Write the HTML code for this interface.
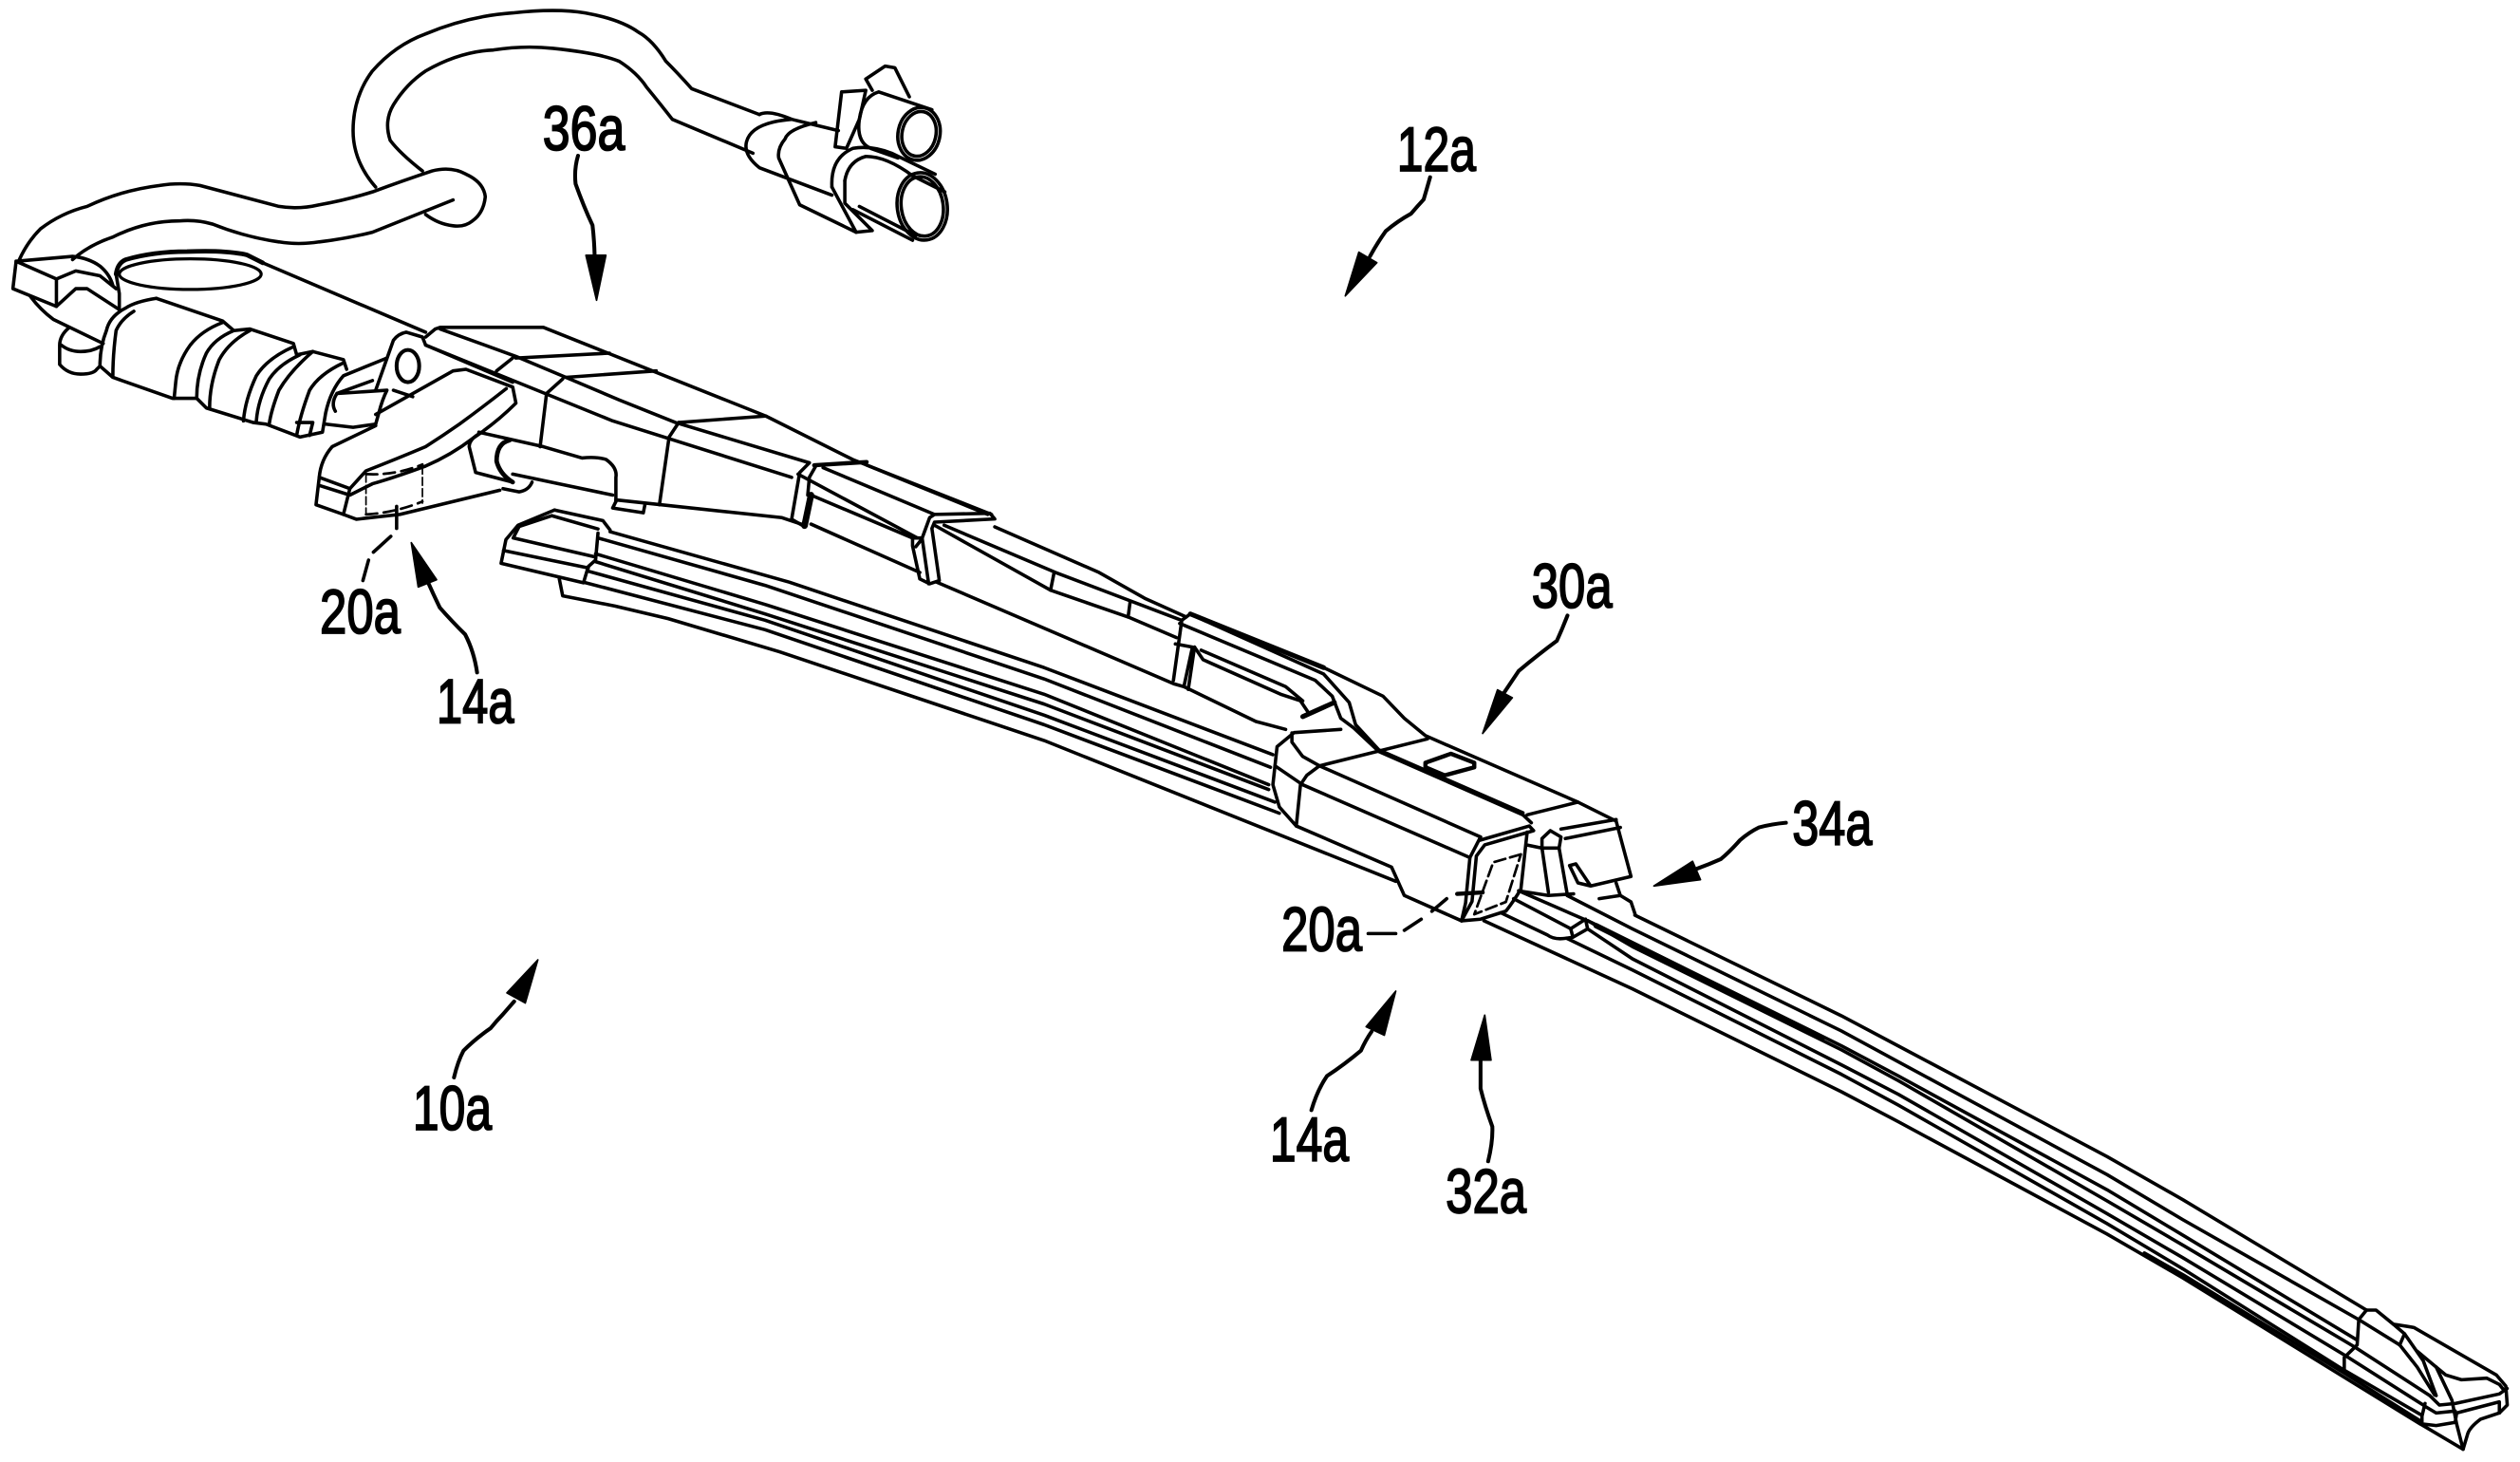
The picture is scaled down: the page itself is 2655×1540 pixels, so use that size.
<!DOCTYPE html>
<html><head><meta charset="utf-8"><title>Wiper</title>
<style>html,body{margin:0;padding:0;background:#fff}svg{display:block}
text{font-family:"Liberation Sans",sans-serif;font-size:39px;fill:#000;stroke:#000;stroke-width:1.1px}</style></head>
<body>
<svg xmlns="http://www.w3.org/2000/svg" width="2655" height="1540" viewBox="0 0 1563 906.6" preserveAspectRatio="none">
<rect width="1563" height="906.6" fill="#fff"/>
<g fill="none" stroke="#000" stroke-width="2.1" stroke-linejoin="round" stroke-linecap="round">
<!-- upper cable -->
<path d="M233,116Q219,100 219,81Q219,60 231,44Q245,28 264,21Q290,10 318,8Q345,5 363,8Q385,12 396,20Q405,25 413,38Q420,45 429,55L471,71"/>
<path d="M262,106Q248,95 242,87Q238,75 244,65Q252,52 264,44Q285,32 306,31Q325,28 343,30Q372,33 384,38Q395,45 401,54Q410,65 417,74L467,95"/>
<!-- lower cable -->
<path d="M12,161Q17,150 25,142Q38,132 54,128Q75,118 99,115Q112,113 124,115Q150,122 173,128Q185,130 198,127Q215,124 231,119Q250,112 268,106Q280,103 289,108Q300,113 301,122Q300,132 293,137Q288,141 281,140Q272,139 264,133"/>
<path d="M45,161Q55,152 70,147Q90,137 111,137Q122,136 132,139Q152,147 173,150Q185,152 198,150Q215,148 231,144L281,124"/>
<!-- connector -->
<path d="M471,71Q477,68 491,74L520,81"/>
<path d="M491,74Q466,76 463,88Q461,96 471,104L516,121"/>
<path d="M506,76Q489,80 487,86Q482,92 483,98L496,127L531,144"/>
<ellipse cx="570" cy="83" rx="13" ry="16.5" transform="rotate(12 570 83)"/>
<ellipse cx="570" cy="83" rx="10.5" ry="14" transform="rotate(12 570 83)"/>
<path d="M578,68L545,57Q535,60 533,74Q531,88 540,92L557,98"/>
<path d="M537,49L549,41L555,42L564,60M537,49L541,56"/>
<path d="M522,57L537,56L533,74L525,92L518,91Z"/>
<ellipse cx="572" cy="128" rx="15.5" ry="21" transform="rotate(-8 572 128)"/>
<ellipse cx="572" cy="128" rx="13" ry="18.5" transform="rotate(-8 572 128)"/>
<path d="M516,116Q515,98 529,92Q540,90 553,95L580,108"/>
<path d="M524,112Q526,100 537,97Q550,97 566,109L586,119"/>
<path d="M516,116L531,144L541,143L524,126L524,112"/>
<path d="M529,130L566,149M533,128L568,146"/>
<!-- arm head -->
<ellipse cx="118" cy="170" rx="44" ry="9.5" stroke-width="1.9"/>
<path stroke-width="2.8" d="M72,170Q73,163 78,161Q95,156 116,156Q140,155 153,158L163,163"/>
<path d="M163,163L264,206"/>
<path d="M72,170L74,182L74,191"/>
<path d="M10,162L45,159Q55,160 62,165Q68,170 70,177"/>
<path d="M10,162L35,173L35,190L8,179Z"/>
<path d="M35,173L47,168L62,171L72,179"/>
<path d="M35,190L47,179L54,179L74,192"/>
<path d="M19,184Q25,192 33,198L64,213"/>
<path d="M43,203Q37,208 37,214L37,226Q42,232 50,232Q58,232 60,229L62,227"/>
<path d="M38,214Q43,218 50,218Q57,218 62,215"/>
<!-- motor body -->
<path d="M97,185L138,199L145,205L155,204L182,213L184,220L194,218L213,223L215,229"/>
<path d="M97,185Q84,187 78,191Q68,196 66,205Q62,215 62,227L70,234L107,247L122,247L128,253L157,262L165,263L186,271L200,268L202,256Q205,242 213,233L240,222"/>
<path d="M83,193Q75,198 72,205Q70,220 70,233"/>
<path d="M138,200Q125,205 118,214Q110,225 109,237L108,247"/>
<path d="M145,205Q133,210 128,219Q122,232 122,247"/>
<path d="M155,205Q142,212 136,223Q130,238 130,253"/>
<path d="M182,215Q166,222 159,233Q152,248 151,261"/>
<path d="M186,220Q173,226 167,235Q160,248 159,261"/>
<path d="M194,218Q180,230 173,242Q168,255 167,263"/>
<path d="M213,225Q198,232 192,242Q186,258 184,270"/>
<path d="M184,262L194,262L192,270"/>
<path d="M202,263L219,265L233,263"/>
<path d="M209,244L231,236M209,244L240,242Q237,248 235,256L233,263M244,242L256,246"/>
<path d="M209,244Q205,250 208,255"/>
<!-- hinge -->
<path d="M233,242L244,211Q247,207 252,206L262,209L264,214L318,237"/>
<ellipse cx="253" cy="227" rx="7" ry="10" stroke-width="2.4"/>
<!-- lever -->
<path d="M233,264L206,277Q199,285 198,296L196,313L213,319L221,322L248,319L310,304"/>
<path d="M233,257L281,230L289,229L318,240L320,250Q308,262 293,272Q280,282 264,289Q245,296 231,300L217,307L198,301"/>
<path d="M198,296L217,303L213,319"/>
<path d="M314,241Q300,252 285,263Q275,270 264,277Q245,285 227,292L217,303"/>
<path stroke-width="1" d="M227,294V319M262,289V312" stroke-dasharray="5 2"/>
<path stroke-width="1.6" d="M227,294Q245,295 262,288M227,319Q245,318 262,311" stroke-dasharray="7 4"/>
<path d="M246,314L246,327.7"/>
<path d="M242.4,332.6L231.6,342.4M228.6,347.3L225.1,360"/>
<!-- rod -->
<path d="M297,268L337,277L361,284Q370,283 376,285Q383,290 382,296L382,311"/>
<path d="M318,294L380,307"/>
<path stroke-width="2.8" d="M316,273Q308,275 308,286Q310,294 318,299"/>
<path d="M299,268Q291,272 291,277L295,293L318,299M312,303L322,305Q328,304 330,299"/>
<!-- arm -->
<path d="M264,209L270,204L273,203H337L475,258L529,285L615,319"/>
<path d="M273,204L320,221L351,234L384,248L419,262L502,287"/>
<path d="M264,214L343,246L380,261L491,296"/>
<path d="M320,222L378,219M351,234L407,230M421,262L475,258"/>
<path d="M318,222L308,230M349,235L339,244L335,277M421,262L415,271L409,313"/>
<path d="M382,310L485,321L500,326"/>
<path d="M382,311L380,315L399,318L400,313"/>
<!-- clip 1 -->
<path d="M502,287L496,293L491,322L498,326"/>
<path d="M506,289L502,296L501,307"/>
<path stroke-width="4" d="M503,307L499,326"/>
<path stroke-width="2.6" d="M505,288.5L537.5,286.5"/>
<path d="M510.5,290L579.6,319M537.5,288.4L612.6,319"/>
<path d="M495,294L569,333.6M503,307L566,333.6M503,325L570.5,355"/>
<!-- clip 2 -->
<path d="M579.6,319L576.6,321L572,333.6H566V338.5L570.5,359L576.6,362L582.6,360L578,327.7L579.6,323.8L617,321.8L614,318.3L579.6,319"/>
<path d="M568,339L572,334L576,362"/>
<path d="M579.6,325.7L651.6,366L699.7,382.6L729.7,395.4"/>
<path d="M585.6,325.7L654.7,355L732.7,384.6"/>
<path d="M617,326.7L681.7,355L710,371L735.7,382.6"/>
<path d="M651.6,366L653.8,355M699.7,382.6L701,372.8"/>
<path d="M581,361L728,424L734.3,425.8L779,447.4L797.4,452.3"/>
<!-- saddle -->
<path d="M738.3,380.7L733,384.6L727.8,421.9"/>
<path d="M731.7,386.6L815.8,421.9L826.3,431.7L831.6,445.4L839.5,451.3L855.2,466L944.6,505.3"/>
<path stroke-width="3" d="M738.3,380.7L821,414"/>
<path d="M821,414L857.8,431.7L871,445.4L884.1,456.2L978.7,497.4L1002.4,509.2L1011.6,543.5L986.6,549.4L977.4,535.7L973.5,536.7L978.7,547.5L986.6,549.4"/>
<path d="M742.2,382.6L821,418L836.8,435.6L840.8,449.4L855.2,465L944.6,504"/>
<path d="M729,399.3L739.6,401.3L734.3,425.8M740.9,401.3L737,427.5"/>
<path d="M740.9,401.3L746.2,409.1L794.8,430.7L806.6,434.6L811.9,442.5"/>
<path d="M745,403.2L797.4,425.8L808,434.6"/>
<path stroke-width="3" d="M808,444.4L827.6,435.6"/>
<path d="M831.6,452.3L802.6,454.3L792.1,463L789.5,486.6L793.5,500.4L804,512.2L806.6,486.6L810.5,480.8L818.4,474.9L885.4,458.2"/>
<path d="M801.3,454.5L801.3,460.2L807.9,469L818.4,474.9"/>
<path d="M790.8,474.9L807.9,486.6"/>
<path d="M818.4,474.9L918.3,519"/>
<path d="M807.9,486.6L911.7,531.8"/>
<path d="M804,512.2L863.1,537.7L871,555.3L906.5,571"/>
<path stroke-width="2.6" d="M884.1,473L899.9,467.4L914.4,473V475.8L896,480.8L884.1,475.8Z"/>
<!-- cap -->
<path d="M918.3,519L911.7,531.8L909,560L906.5,571"/>
<path d="M918,521L948.5,512.2L951.2,515.1L920.9,523.9L915.7,530.8L913,559L906.5,571"/>
<path d="M947.2,516L943.3,551.4Q938,560 934,565L918.3,570L906.5,571"/>
<path d="M944.6,505.3L949.8,510.2"/>
<path stroke-width="1.6" stroke-dasharray="7 3" d="M943.3,529.8L926.2,534.7L914.4,567L934,559.3L943.3,529.8"/>
<path stroke-width="2.6" d="M903.8,554.3L919.6,553.4"/>
<path d="M897.3,557.3L888.1,565.1M881.5,570L871,576.9M848.6,578.9H865.7"/>
<!-- right housing -->
<path d="M947.2,505.3L978.7,497.4"/>
<path d="M947.2,524L956.4,525.9H967L968.2,519L961.6,515.1L956.4,520V525.9L960.4,553.4"/>
<path d="M967,525.9L972.2,555.3"/>
<path d="M968.2,514.1L1002.4,508.2M970.9,520L1005,513.1"/>
<path d="M941.9,552.4L960.4,555.3L976,554.3"/>
<path d="M1002.4,547.5L1005,555.3L1011.6,559.3L1014.2,567M991.9,557.3L1005,555.3"/>
<!-- blade left end -->
<path d="M343.9,316.3L321.3,325.7L313.8,334.6L310.8,349.3L361.9,361.4L364.9,351.3L369.4,347.3L370.9,330.6"/>
<path d="M343.9,316.3L373.9,322.8L378.4,328.7"/>
<path d="M342.3,319.8L370.9,328M342.3,319.8L322,326.5L318.3,333.6L369.4,345.4M312.3,341.4L364.9,352.2"/>
<path d="M346.9,359L349,369.5L381.4,375.8L414.4,383.6L483.5,404.2L647.6,459.2L865.7,546.5"/>
<!-- blade long lines -->
<path d="M378.4,329.7L489.5,361L647.6,414L789.5,468"/>
<path d="M370.9,333.6L474.5,363L647.6,421L788,475.8"/>
<path d="M369.4,343.4L474.5,374.8L647.6,430.5L786.9,486.6"/>
<path d="M369.4,348.3L474.5,380.7L647.6,436.6L786.9,489.6"/>
<path d="M364.9,354.2L474.5,384.6L647.6,443.5L790.8,497.4"/>
<path d="M361.9,361L474.5,390.5L647.6,449.4L793.5,504.3"/>
<!-- right of cap -->
<path d="M1014,567.5L1142.1,629.9L1177.4,648.6L1306.9,717.2L1354,744L1467.8,812.4"/>
<path d="M972,555.3L1012.5,576L1142.1,639.3L1177.4,658.4L1306.9,728.4L1354,756.4L1463,818.3L1488.4,834"/>
<path d="M944,553.3L987,572L1012.5,584.5L1142.1,648.5L1177.4,667.2L1306.9,737.8L1354,766L1462,831"/>
<path d="M985,571L1012.5,587L1142.1,651L1177.4,670.1L1306.9,744.7L1354,772.2L1460,835L1507,865.4"/>
<path stroke-width="3.4" d="M990,574L1130,644"/>
<path d="M984.7,576L1012.5,594.6L1142.1,660.3L1177.4,678.6L1306.9,752.6L1354,780L1455,840.8L1503,871.3"/>
<path d="M971.6,581.8L1012.5,601.5L1142.1,666.2L1177.4,685.3L1306.9,758.8L1354,786.9L1454,849.7L1501,877"/>
<path d="M920.4,571L1012.5,613.2L1142.1,677L1177.4,695.6L1306.9,765.3L1354,792.5L1501,883"/>
<path d="M1330,777L1354,790.5L1454,851.5L1501,881"/>
<path d="M930.8,566L959.8,579.8Q964,583 971.6,581.8L975.6,581.2L984.7,576L983.4,570L974.2,575.9L975.6,581.2"/>
<path d="M938.8,557.3L974.2,575.9"/>
<!-- tip -->
<path d="M1467.8,812.4L1473.7,812.4L1484.5,821.2Q1490,822 1497.2,823.2L1548.3,852.6L1554.2,859.5L1555.1,871.3L1550.2,876.2L1538.5,880.1Q1532,885 1530.6,889L1527.7,898.7L1501.2,883"/>
<path d="M1467.8,812.4L1463,818.3L1462,834L1454,841.8L1454,850.7"/>
<path d="M1491.4,827.1L1488.4,834"/>
<path d="M1484.5,821.2L1491.4,827.1L1503,843.8L1511,865.4"/>
<path d="M1488.4,834L1499.2,847.7L1510,865"/>
<path d="M1499.2,837.9L1511,847.7L1520.8,868.3L1523.7,883L1527.7,898.7"/>
<path d="M1511,847.7L1516.9,852.6L1526.7,855.6L1542.4,854.6L1550.2,858.5L1553,862"/>
<path d="M1507,865.4L1513,871.3L1522.8,870.3L1550.2,864.4L1555,861"/>
<path d="M1504.1,870.3L1502.2,878.2V883L1511,884L1522.8,882L1523.7,876.2"/>
<path d="M1504,872L1511,876.2L1522.8,875"/>
<path d="M1523.7,876.2L1550.2,869.3V876.2"/>
</g>
<!-- reference arrows -->
<g fill="none" stroke="#000" stroke-width="2.4" stroke-linecap="round">
<path d="M358.5,96.6Q356,105 357,114Q362,128 367.5,139.7Q368.5,148 368.8,158"/>
<path d="M887,109.9Q885,117 883,123.7Q879,128 875.2,132.5Q867,137 859.5,143.3Q854,151 849.7,159"/>
<path d="M972.2,381.7Q969,390 965.6,397.4Q954,406 942,416Q938,422 932.8,429.7"/>
<path d="M1107.7,510.2Q1099,511 1091,513.1Q1085,516 1079.2,521Q1073,528 1067.4,532.7Q1060,536 1052.7,538.6"/>
<path d="M813.4,688.4Q817,676 823.1,667.2Q834,660 844.1,651.5Q847,645 850.7,639.7"/>
<path d="M923,720.1Q926,708 925.6,698.6Q921,686 918.3,675V657.4"/>
<path d="M295.9,417Q294,404 288.5,393.4Q280,385 272.8,376.8Q269,369 265.9,362"/>
<path d="M281.6,668.1Q284,658 287.5,651.5Q295,644 304.2,637.7Q308,633 312,628.9L318.9,621"/>
</g>
<g fill="#000" stroke="#000" stroke-width="1" stroke-linejoin="round">
<polygon points="363.4,158.3 375.8,158.3 370,186.2"/>
<polygon points="834.4,183.5 842.8,156.4 854,162.9"/>
<polygon points="928.8,427.8 938,432.7 919.6,454.8"/>
<polygon points="1025.8,549.4 1049.8,534.1 1054.7,545.5"/>
<polygon points="865.7,614.6 847.3,636.7 858.6,642"/>
<polygon points="920.9,629.5 912.5,657.4 924.8,657.4"/>
<polygon points="255.1,336.5 259.4,364 270.8,359.5"/>
<polygon points="333.6,595.2 314.4,615.7 325.8,622"/>
</g>
<text x="336.6" y="93" textLength="51" lengthAdjust="spacingAndGlyphs">36a</text>
<text x="866.4" y="106" textLength="49" lengthAdjust="spacingAndGlyphs">12a</text>
<text x="950" y="376.7" textLength="50" lengthAdjust="spacingAndGlyphs">30a</text>
<text x="1111.6" y="523.9" textLength="49.6" lengthAdjust="spacingAndGlyphs">34a</text>
<text x="198.4" y="392.6" textLength="50" lengthAdjust="spacingAndGlyphs">20a</text>
<text x="270.8" y="448.4" textLength="48" lengthAdjust="spacingAndGlyphs">14a</text>
<text x="794.8" y="589.7" textLength="50" lengthAdjust="spacingAndGlyphs">20a</text>
<text x="787.6" y="720.1" textLength="49" lengthAdjust="spacingAndGlyphs">14a</text>
<text x="896.7" y="752.1" textLength="50" lengthAdjust="spacingAndGlyphs">32a</text>
<text x="256" y="700.5" textLength="49" lengthAdjust="spacingAndGlyphs">10a</text>
</svg>
</body></html>
